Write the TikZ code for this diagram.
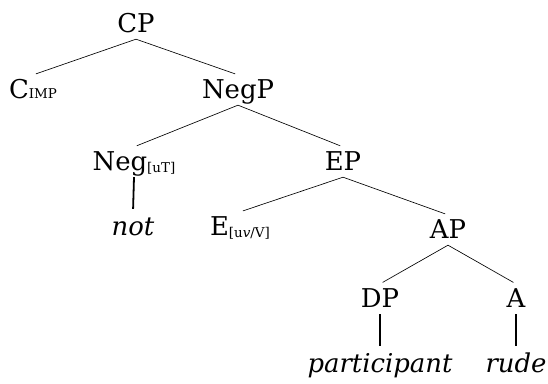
\documentclass[tikz,border=0pt]{standalone}
\usepackage{fontspec}
\setmainfont{DejaVu Serif}
\newcommand{\sbs}[1]{{\fontsize{13.5}{15}\selectfont #1}}

\begin{document}
\begin{tikzpicture}[
            x=1bp, y=-1bp,
            cat/.style={anchor=base, inner sep=3pt, text height=20pt, text depth=4pt, font=\fontsize{26}{30}\selectfont},
            word/.style={cat, font=\fontsize{26}{30}\selectfont\itshape},
            branch/.style={line width=0.65pt, shorten >=3pt},
            bar/.style={line width=1.8pt, shorten >=3pt}
        ]
        \useasboundingbox (0,0) rectangle (548,383);

        % Level 1: CP and its daughters
        \node[cat] (cp) at (136,32) {CP};
        \node[cat] (cimp) at (33,98) {C\sbs{IMP}};
        \node[cat] (negp) at (238,98) {NegP};
        \draw[branch] (cp.south) -- (cimp.north);
        \draw[branch] (cp.south) -- (negp.north);

        % Level 2: NegP
        \node[cat] (neg) at (134,170) {Neg\raisebox{-2pt}{\sbs{[uT]}}};
        \node[cat] (ep) at (343,170) {EP};
        \draw[branch] (negp.south) -- (neg.north);
        \draw[branch] (negp.south) -- (ep.north);
        \node[word] (not) at (133,235) {not};
        \draw[bar] (neg.south) -- (not.north);

        % Level 3: EP
        \node[cat] (e) at (240,235) {E\raisebox{-2pt}{\sbs{[u\textit{v}/V]}}};
        \node[cat] (ap) at (448,238) {AP};
        \draw[branch] (ep.south) -- (e.north);
        \draw[branch] (ep.south) -- (ap.north);

        % Level 4: AP
        \node[cat] (dp) at (380,307) {DP};
        \node[cat] (a) at (516,307) {A};
        \draw[branch] (ap.south) -- (dp.north);
        \draw[branch] (ap.south) -- (a.north);

        % Terminals
        \node[word] (participant) at (380,372) {participant};
        \node[word] (rude) at (516,372) {rude};
        \draw[bar] (dp.south) -- (participant.north);
        \draw[bar] (a.south) -- (rude.north);

    \end{tikzpicture}
\end{document}
